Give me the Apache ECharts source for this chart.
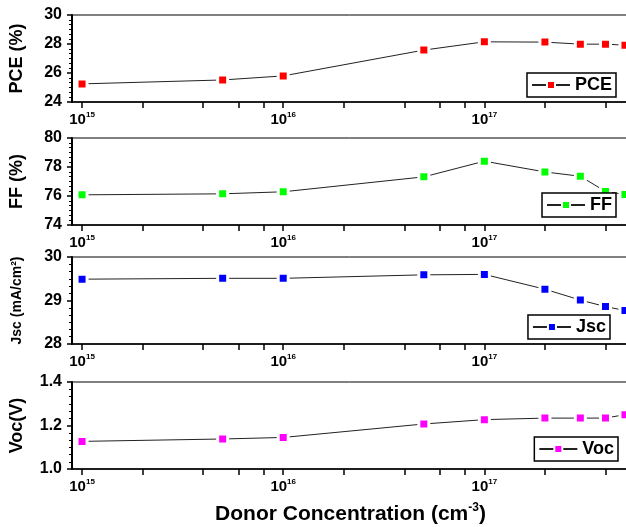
<!DOCTYPE html>
<html><head><meta charset="utf-8">
<script src="https://cdn.jsdelivr.net/npm/echarts@6/dist/echarts.min.js"></script>
<style>html,body{margin:0;padding:0;background:#fff}#c{width:626px;height:527px}</style>
</head><body><div id="c"></div>
<script>
// ---- data ----
const concentrations = [1e15, 5e15, 1e16, 5e16, 1e17, 2e17, 3e17, 4e17, 5e17];
const pce = [25.25, 25.52, 25.80, 27.58, 28.15, 28.13, 27.99, 27.99, 27.92];
const ff  = [76.08, 76.15, 76.29, 77.32, 78.40, 77.66, 77.36, 76.31, 76.11];
const jsc = [29.49, 29.51, 29.51, 29.59, 29.60, 29.26, 29.01, 28.86, 28.77];
const voc = [1.127, 1.138, 1.145, 1.207, 1.227, 1.234, 1.234, 1.234, 1.250];
const xTickValues = [1e15, 2e15, 4e15, 6e15, 8e15, 1e16, 2e16, 4e16, 6e16, 8e16, 1e17, 2e17, 4e17];
const xLabelExponents = [15, 16, 17];

// ---- layout/style ----
const FONT = '"Liberation Sans", Arial, sans-serif';
const X_MIN_LOG = 14.95, X_MAX_LOG = 17.719;
const panels = [
  {name:'PCE', axisName:'PCE (%)', values:pce, color:'#ff0000', min:24, max:30, interval:2, dec:0, top:15, nameSize:18, nameGap:46, legend:{right:10, top:73}},
  {name:'FF', axisName:'FF (%)', values:ff, color:'#00ff00', min:74, max:80, interval:2, dec:0, top:138, nameSize:18, nameGap:46, legend:{right:10, top:193}},
  {name:'Jsc', axisName:'Jsc (mA/cm²)', values:jsc, color:'#0000ff', min:28, max:30, interval:1, dec:0, top:257, nameSize:14, nameGap:48, legend:{right:16, top:315}},
  {name:'Voc', axisName:'Voc(V)', values:voc, color:'#ff00ff', min:1.0, max:1.4, interval:0.2, dec:1, top:382, nameSize:18, nameGap:46, legend:{right:8, top:437}}
];
const H = 87;

const grids = [], xAxes = [], yAxes = [], series = [], legends = [];
panels.forEach((p, i) => {
  grids.push({left:72, right:-3, top:p.top, height:H, show:true, borderColor:'#000', borderWidth:1,
    backgroundColor:'transparent', containLabel:false, outerBoundsMode:'none'});
  const isLast = i === panels.length - 1;
  xAxes.push({
    type:'log', logBase:10, gridIndex:i,
    min: Math.pow(10, X_MIN_LOG), max: Math.pow(10, X_MAX_LOG),
    axisLine:{show:true, lineStyle:{color:'#000', width:1.5}},
    axisTick:{show:false}, splitLine:{show:false}, minorTick:{show:false},
    axisLabel:{
      show:true, margin:9, color:'#000',
      formatter: v => {
        const e = Math.round(Math.log10(v));
        if (Math.abs(Math.log10(v) - e) > 1e-6 || xLabelExponents.indexOf(e) < 0) return '';
        return '{b|10}{s|' + e + '}';
      },
      rich:{
        b:{fontFamily:FONT, fontWeight:'bold', fontSize:15, color:'#000'},
        s:{fontFamily:FONT, fontWeight:'bold', fontSize:8, color:'#000', padding:[0,0,9,0]}
      }
    },
    name: isLast ? 'Donor Concentration (cm{s|-3})' : '',
    nameLocation:'middle', nameGap:33,
    nameTextStyle:{fontFamily:FONT, fontWeight:'bold', fontSize:21, color:'#000',
      rich:{s:{fontFamily:FONT, fontWeight:'bold', fontSize:12, color:'#000', padding:[0,0,12,0]}}}
  });
  // tick-only helper axis in log10 space
  xAxes.push({
    type:'value', gridIndex:i, min:X_MIN_LOG, max:X_MAX_LOG, position:'bottom',
    axisLine:{show:false}, splitLine:{show:false}, axisLabel:{show:false},
    axisTick:{show:true, length:6, inside:false, lineStyle:{color:'#000', width:1.5},
      customValues: xTickValues.map(v => Math.log10(v))}
  });
  yAxes.push({
    type:'value', gridIndex:i, min:p.min, max:p.max, interval:p.interval,
    axisLine:{show:true, lineStyle:{color:'#000', width:2}},
    axisTick:{show:true, length:5, lineStyle:{color:'#000', width:1.5}},
    minorTick:{show:true, splitNumber:6, length:3, lineStyle:{color:'#000', width:1}},
    splitLine:{show:false},
    axisLabel:{color:'#000', fontFamily:FONT, fontWeight:'bold', fontSize:16, margin:10,
      formatter: v => v.toFixed(p.dec)},
    name:p.axisName, nameLocation:'middle', nameGap:p.nameGap, nameRotate:90,
    nameTextStyle:{fontFamily:FONT, fontWeight:'bold', fontSize:p.nameSize, color:'#000'}
  });
  series.push({
    name:p.name, type:'line', xAxisIndex:2*i, yAxisIndex:i,
    data: concentrations.map((c, k) => [c, p.values[k]]),
    symbol:'rect', symbolSize:10,
    itemStyle:{color:p.color, borderColor:'#fff', borderWidth:3},
    lineStyle:{color:'#222', width:1},
    emphasis:{disabled:true}, animation:false
  });
  legends.push({
    data:[p.name], right:p.legend.right, top:p.legend.top, orient:'horizontal',
    backgroundColor:'#fff', borderColor:'#000', borderWidth:1.5, borderRadius:0,
    padding:[3,4,3,4], itemWidth:38, itemHeight:10, selectedMode:false,
    textStyle:{fontFamily:FONT, fontWeight:'bold', fontSize:18, color:'#000'}
  });
});

const chart = echarts.init(document.getElementById('c'), null, {renderer:'canvas'});
chart.setOption({
  backgroundColor:'#fff', animation:false,
  grid:grids, xAxis:xAxes, yAxis:yAxes, series:series, legend:legends
});
</script></body></html>
